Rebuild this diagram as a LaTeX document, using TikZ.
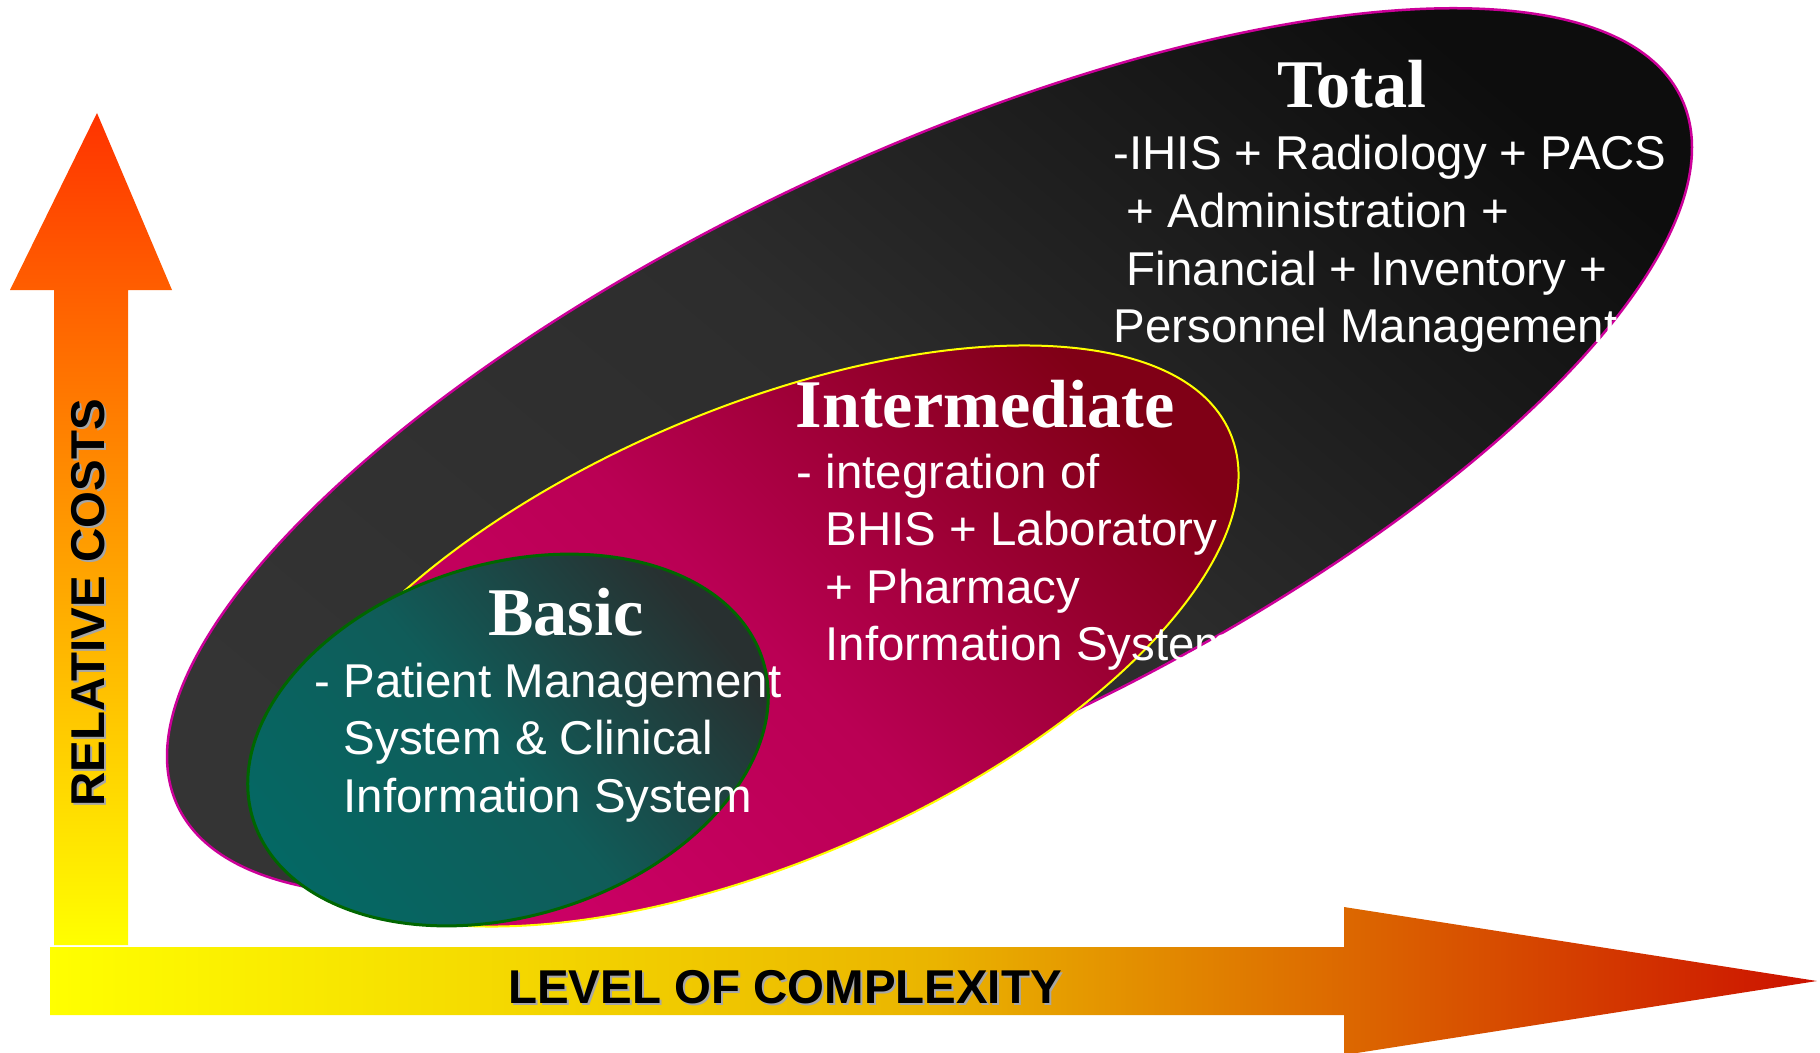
\documentclass[tikz,border=0pt]{standalone}
\usepackage{fontspec}
\setmainfont{Liberation Serif}
\setsansfont{Liberation Sans}
\usepackage{xcolor}

\definecolor{arrowyellow}{RGB}{255,255,0}
\definecolor{costmid}{RGB}{255,153,0}
\definecolor{costtop}{RGB}{255,51,0}
\definecolor{cplxmid}{RGB}{234,180,0}
\definecolor{cplxtip}{RGB}{204,17,0}
\definecolor{totalrim}{RGB}{204,0,153}
\definecolor{totallight}{RGB}{52,52,52}
\definecolor{totalmid}{RGB}{45,45,45}
\definecolor{totaldark}{RGB}{13,13,13}
\definecolor{interrim}{RGB}{255,255,0}
\definecolor{interlight}{RGB}{206,0,104}
\definecolor{intermid}{RGB}{186,0,84}
\definecolor{interdark}{RGB}{128,0,22}
\definecolor{basicrim}{RGB}{0,102,0}
\definecolor{basiclight}{RGB}{4,104,100}
\definecolor{basicmid}{RGB}{16,92,89}
\definecolor{basicdark}{RGB}{40,48,48}

\begin{document}
\begin{tikzpicture}[x=0.1mm,y=-0.1mm]
\tikzstyle{every node}=[inner sep=0pt]
\tikzstyle{levelhead}=[text=white,font=\rmfamily\bfseries\fontsize{19.4}{23}\selectfont]
\tikzstyle{leveltext}=[text=white,font=\sffamily\fontsize{13.5}{16.4}\selectfont]
\tikzstyle{axislabel}=[font=\sffamily\bfseries\fontsize{13.5}{16}\selectfont]
\tikzstyle{labelshade}=[axislabel,text=black!35]

\useasboundingbox (0,0) rectangle (1820,1053);

%% Relative costs (vertical arrow)
\shade[bottom color=arrowyellow,top color=costtop,middle color=costmid]
  (54,945) -- (54,290) -- (10,290) -- (97,113) -- (172,290) -- (128,290) -- (128,945) -- cycle;

%% Level of complexity (horizontal arrow)
\shade[left color=arrowyellow,right color=cplxtip,middle color=cplxmid]
  (50,947) -- (1344,947) -- (1344,907) -- (1817,981) -- (1344,1055) -- (1344,1015) -- (50,1015) -- cycle;

%% Three levels
\shade[draw=totalrim,line width=0.25mm,bottom color=totallight,top color=totaldark,
  middle color=totalmid,shading angle=-40,rotate around={25.2:(929.5,452)}]
  (929.5,452) ellipse (831 and 296);
\shade[draw=interrim,line width=0.2mm,bottom color=interlight,top color=interdark,
  middle color=intermid,shading angle=-45,rotate around={23.3:(758,636)}]
  (758,636) ellipse (514 and 226);
\shade[draw=basicrim,line width=0.3mm,bottom color=basiclight,top color=basicdark,
  middle color=basicmid,shading angle=-50,rotate around={17.3:(508,740)}]
  (508,740) ellipse (267 and 176);

%% Level texts
\node[levelhead,anchor=base] (totalhead) at (1352,108) {Total};
\node[leveltext,anchor=base west] (totallist) at (1113,170)
  {\begin{tabular}[t]{@{}l@{}}-IHIS + Radiology + PACS\\\ + Administration +\\\ Financial + Inventory +\\Personnel Management\end{tabular}};

\node[levelhead,anchor=base] (interhead) at (985,427) {Intermediate};
\node[leveltext,anchor=base west] (interlist) at (796,488)
  {\begin{tabular}[t]{@{}l@{}}- integration of\\\hphantom{-}\ BHIS + Laboratory\\\hphantom{-}\ + Pharmacy\\\hphantom{-}\ Information System\end{tabular}};

\node[levelhead,anchor=base] (basichead) at (566,635) {Basic};
\node[leveltext,anchor=base west] (basiclist) at (314,697)
  {\begin{tabular}[t]{@{}l@{}}- Patient Management\\\hphantom{-}\ System \& Clinical\\\hphantom{-}\ Information System\end{tabular}};

%% Axis labels
\node[labelshade,rotate=90] (costshade) at (90,605) {RELATIVE COSTS};
\node[axislabel,rotate=90] (costlabel) at (88,603) {RELATIVE COSTS};
\node[labelshade] (cplxshade) at (787,989) {LEVEL OF COMPLEXITY};
\node[axislabel] (cplxlabel) at (785,987) {LEVEL OF COMPLEXITY};

\end{tikzpicture}
\end{document}
